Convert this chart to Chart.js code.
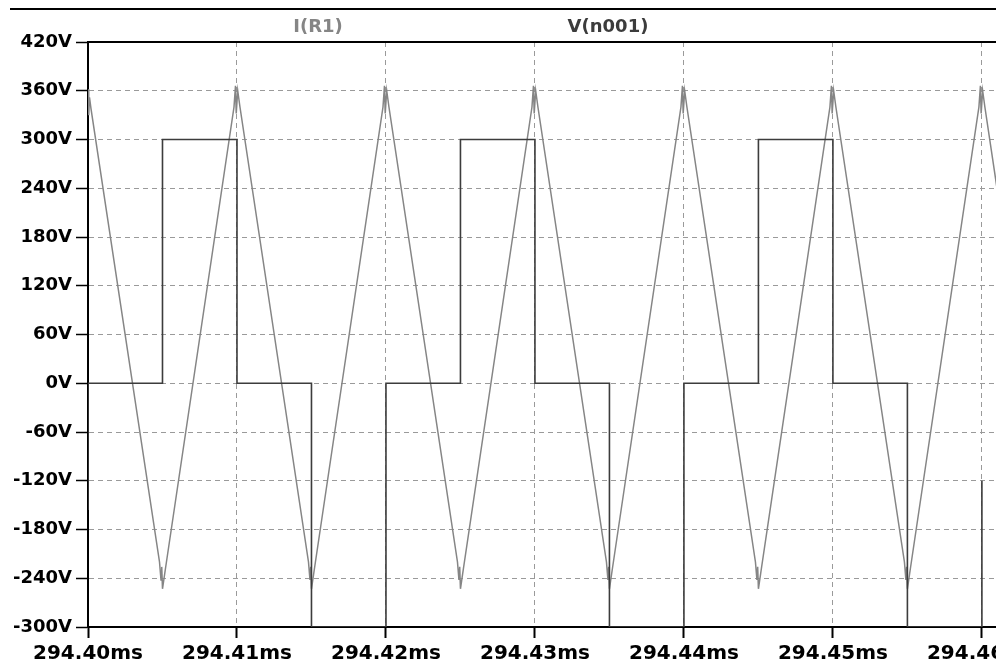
<!DOCTYPE html>
<html>
<head>
<meta charset="utf-8">
<script src="https://cdn.jsdelivr.net/npm/chart.js@4/dist/chart.umd.min.js"></script>
<style>
  html, body { margin: 0; padding: 0; background: #ffffff; overflow: hidden; }
  #wrap { width: 1040px; height: 665px; }
</style>
</head>
<body>
<div id="wrap"><canvas id="c" width="1040" height="665"></canvas></div>
<script>
// ---- Data (time in ms, values in V) ----
const seriesNames = ["I(R1)", "V(n001)"];

// I(R1): triangle-like waveform (gray)
const iTime = [
  294.40000, 294.40005, 294.40010, 294.40020,
  294.40480, 294.40490, 294.40495, 294.40500, 294.40520,
  294.40980, 294.40990, 294.40995, 294.41005, 294.41020,
  294.41480, 294.41490, 294.41495, 294.41500, 294.41520,
  294.41980, 294.41990, 294.41995, 294.42005, 294.42020,
  294.42480, 294.42490, 294.42495, 294.42500, 294.42520,
  294.42980, 294.42990, 294.42995, 294.43005, 294.43020,
  294.43480, 294.43490, 294.43495, 294.43500, 294.43520,
  294.43980, 294.43990, 294.43995, 294.44005, 294.44020,
  294.44480, 294.44490, 294.44495, 294.44500, 294.44520,
  294.44980, 294.44990, 294.44995, 294.45005, 294.45020,
  294.45480, 294.45490, 294.45495, 294.45500, 294.45520,
  294.45980, 294.45990, 294.45995, 294.46005, 294.46020,
  294.46120
];
const iValues = [
  362, 330, 352, 338,
  -220, -242, -226, -253, -228,
  340, 366, 332, 360, 340,
  -220, -242, -226, -253, -228,
  340, 366, 332, 360, 340,
  -220, -242, -226, -253, -228,
  340, 366, 332, 360, 340,
  -220, -242, -226, -253, -228,
  340, 366, 332, 360, 340,
  -220, -242, -226, -253, -228,
  340, 366, 332, 360, 340,
  -220, -242, -226, -253, -228,
  340, 366, 332, 360, 340,
  217
];

// V(n001): square waveform (dark)
const vTime = [
  294.4000, 294.4000, 294.4050, 294.4050, 294.4100, 294.4100,
  294.4150, 294.4150, 294.4200, 294.4200, 294.4250, 294.4250,
  294.4300, 294.4300, 294.4350, 294.4350, 294.4400, 294.4400,
  294.4450, 294.4450, 294.4500, 294.4500, 294.4550, 294.4550,
  294.4600, 294.4600
];
const vValues = [
  -156, 0, 0, 300, 300, 0,
  0, -300, -300, 0, 0, 300,
  300, 0, 0, -300, -300, 0,
  0, 300, 300, 0, 0, -300,
  -300, -120
];

// Tick values
const xTicks = [294.40, 294.41, 294.42, 294.43, 294.44, 294.45, 294.46];
const yTicks = [-300, -240, -180, -120, -60, 0, 60, 120, 180, 240, 300, 360, 420];

const xMin = 294.40, xMax = 294.4639;
const yMin = -300, yMax = 420;

const colI = '#858585';
const colV = '#3c3c3c';
const FONT_Y = { family: 'DejaVu Sans', size: 18, weight: 'bold' };
const FONT_X = { family: 'DejaVu Sans', size: 20, weight: 'bold' };

const headerPlugin = {
  id: 'header',
  afterDraw(chart) {
    const ctx = chart.ctx;
    const a = chart.chartArea;
    ctx.save();
    ctx.strokeStyle = '#000';
    ctx.lineWidth = 2;
    ctx.beginPath();
    ctx.moveTo(10, 9); ctx.lineTo(chart.width, 9);
    ctx.moveTo(a.left - 1, a.top); ctx.lineTo(a.right, a.top);
    ctx.stroke();
    ctx.font = 'bold 18px "DejaVu Sans"';
    ctx.textAlign = 'center';
    ctx.textBaseline = 'middle';
    const pos = [a.left + 230, a.left + 520];
    chart.data.datasets.forEach((ds, k) => {
      ctx.fillStyle = ds.borderColor;
      ctx.fillText(ds.label, pos[k], 27);
    });
    ctx.restore();
  }
};

new Chart(document.getElementById('c'), {
  type: 'line',
  data: {
    datasets: [
      {
        label: seriesNames[0],
        data: iTime.map((t, k) => ({ x: t, y: iValues[k] })),
        borderColor: colI,
        borderWidth: 1.5,
        pointRadius: 0,
        tension: 0,
        fill: false,
        order: 2
      },
      {
        label: seriesNames[1],
        data: vTime.map((t, k) => ({ x: t, y: vValues[k] })),
        borderColor: colV,
        borderWidth: 1.6,
        pointRadius: 0,
        tension: 0,
        fill: false,
        order: 1
      }
    ]
  },
  options: {
    responsive: false,
    animation: false,
    devicePixelRatio: 1,
    layout: { padding: { top: 42, left: 0, right: 0, bottom: 0 } },
    plugins: { legend: { display: false }, tooltip: { enabled: false }, title: { display: false } },
    scales: {
      x: {
        type: 'linear',
        min: xMin, max: xMax,
        afterBuildTicks: (s) => { s.ticks = xTicks.map(v => ({ value: v })); },
        afterFit: (s) => { s.height = 38; s.paddingLeft = 0; s.paddingRight = 0; },
        ticks: {
          color: '#000', font: FONT_X, padding: 4, maxRotation: 0, autoSkip: false,
          callback: (v) => Number(v).toFixed(2) + 'ms'
        },
        grid: { color: '#9a9a9a', lineWidth: 1, tickLength: 11, tickColor: '#000', tickWidth: 2 },
        border: { display: true, color: '#000', width: 2, dash: [5, 4] }
      },
      y: {
        type: 'linear',
        min: yMin, max: yMax,
        afterBuildTicks: (s) => { s.ticks = yTicks.map(v => ({ value: v })); },
        afterFit: (s) => { s.width = 88; },
        ticks: {
          color: '#000', font: FONT_Y, padding: 4, autoSkip: false,
          callback: (v) => v + 'V'
        },
        grid: { color: '#9a9a9a', lineWidth: 1, tickLength: 12, tickColor: '#000', tickWidth: 1.5 },
        border: { display: true, color: '#000', width: 2, dash: [5, 4] }
      }
    }
  },
  plugins: [headerPlugin]
});
</script>
</body>
</html>
